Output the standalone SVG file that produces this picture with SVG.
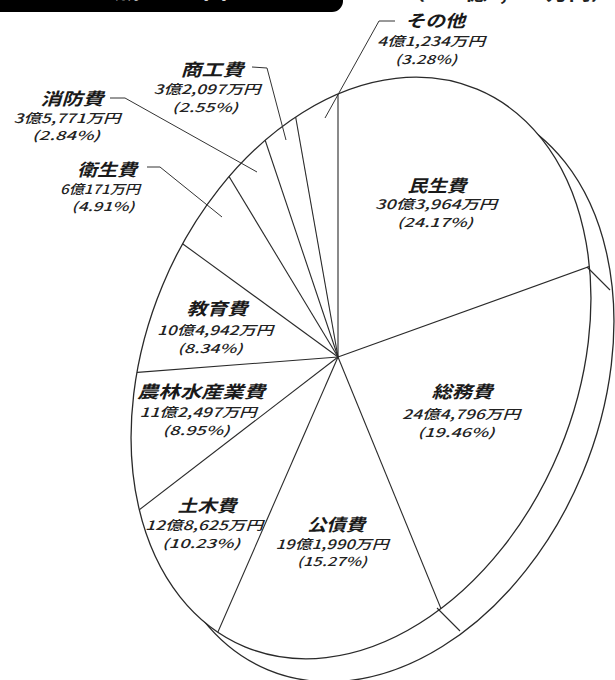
<svg xmlns="http://www.w3.org/2000/svg" width="615" height="680" viewBox="0 0 615 680">
<style>
.t{font-family:"Noto Sans CJK JP","Noto Sans",sans-serif;font-weight:bold;font-style:italic;font-size:17px;fill:#1a1a1a;text-anchor:middle}
.a{font-family:"Noto Sans CJK JP","Noto Sans",sans-serif;font-weight:500;font-style:italic;font-size:13px;fill:#222;text-anchor:middle}
.p{font-family:"Noto Sans CJK JP","Noto Sans",sans-serif;font-weight:500;font-style:italic;font-size:12.5px;fill:#222;text-anchor:middle}
.e{fill:#fff;stroke:#2a2a2a;stroke-width:1.3}
.s{stroke:#2a2a2a;stroke-width:1.1;fill:none}
.l{stroke:#333;stroke-width:1;fill:none}
</style>
<defs>
<clipPath id="face"><ellipse cx="361" cy="368" rx="215" ry="302" transform="rotate(22.6 361 368)"/></clipPath>
</defs>
<rect width="615" height="680" fill="#fff"/>
<g id="header">
<rect x="-20" y="-30" width="363" height="42" rx="11" fill="#000"/>
<text x="127" y="-2" font-family="Noto Sans CJK JP,sans-serif" font-weight="bold" font-size="26" fill="#fff" text-anchor="middle">歳</text>
<text x="215" y="-2" font-family="Noto Sans CJK JP,sans-serif" font-weight="bold" font-size="26" fill="#fff" text-anchor="middle">出</text>
<text x="508" y="0" font-family="Noto Sans CJK JP,sans-serif" font-weight="bold" font-size="18" fill="#222" text-anchor="middle" textLength="210" lengthAdjust="spacingAndGlyphs">（125億6,087万円）</text>
</g>
<g id="pie">
<ellipse class="e" cx="384" cy="391" rx="215" ry="302" transform="rotate(22.6 384 391)"/>
<ellipse class="e" cx="361" cy="368" rx="215" ry="302" transform="rotate(22.6 361 368)"/>
<g clip-path="url(#face)" class="s">
<line x1="338" y1="357" x2="338" y2="40"/>
<line x1="338" y1="357" x2="627" y2="253"/>
<line x1="338" y1="357" x2="462" y2="660"/>
<line x1="338" y1="357" x2="200" y2="673"/>
<line x1="338" y1="357" x2="100" y2="540"/>
<line x1="338" y1="357" x2="90" y2="376"/>
<line x1="338" y1="357" x2="150" y2="220"/>
<line x1="338" y1="357" x2="210" y2="145"/>
<line x1="338" y1="357" x2="255" y2="110"/>
<line x1="338" y1="357" x2="290" y2="85"/>
</g>
<line class="s" x1="587" y1="267" x2="610" y2="290"/>
<line class="s" x1="437" y1="608" x2="460" y2="631"/>
</g>
<g id="connectors" class="l">
<polyline points="395,21 379,21 325,118"/>
<polyline points="252,67 267,68 286,140"/>
<polyline points="110,98 125,98 257,172"/>
<polyline points="147,167 160,167 222,217"/>
</g>
<g id="sonota">
<text class="t" x="435" y="27" textLength="60" lengthAdjust="spacingAndGlyphs">その他</text>
<text class="a" x="431" y="46" textLength="108" lengthAdjust="spacingAndGlyphs">4億1,234万円</text>
<text class="p" x="426" y="64" textLength="62" lengthAdjust="spacingAndGlyphs">(3.28%)</text>
</g>
<g id="shoko">
<text class="t" x="212" y="76" textLength="63" lengthAdjust="spacingAndGlyphs">商工費</text>
<text class="a" x="207" y="94" textLength="107" lengthAdjust="spacingAndGlyphs">3億2,097万円</text>
<text class="p" x="205" y="112" textLength="66" lengthAdjust="spacingAndGlyphs">(2.55%)</text>
</g>
<g id="shobo">
<text class="t" x="72" y="105" textLength="63" lengthAdjust="spacingAndGlyphs">消防費</text>
<text class="a" x="67" y="123" textLength="107" lengthAdjust="spacingAndGlyphs">3億5,771万円</text>
<text class="p" x="66" y="140" textLength="68" lengthAdjust="spacingAndGlyphs">(2.84%)</text>
</g>
<g id="eisei">
<text class="t" x="107" y="176" textLength="60" lengthAdjust="spacingAndGlyphs">衛生費</text>
<text class="a" x="100" y="194" textLength="80" lengthAdjust="spacingAndGlyphs">6億171万円</text>
<text class="p" x="103" y="211" textLength="63" lengthAdjust="spacingAndGlyphs">(4.91%)</text>
</g>
<g id="minsei">
<text class="t" x="437" y="192" textLength="59" lengthAdjust="spacingAndGlyphs">民生費</text>
<text class="a" x="436" y="209" textLength="122" lengthAdjust="spacingAndGlyphs">30億3,964万円</text>
<text class="p" x="435" y="227" textLength="76" lengthAdjust="spacingAndGlyphs">(24.17%)</text>
</g>
<g id="somu">
<text class="t" x="462" y="398" textLength="61" lengthAdjust="spacingAndGlyphs">総務費</text>
<text class="a" x="461" y="419" textLength="118" lengthAdjust="spacingAndGlyphs">24億4,796万円</text>
<text class="p" x="456" y="437" textLength="77" lengthAdjust="spacingAndGlyphs">(19.46%)</text>
</g>
<g id="kosai">
<text class="t" x="336" y="531" textLength="58" lengthAdjust="spacingAndGlyphs">公債費</text>
<text class="a" x="332" y="549" textLength="113" lengthAdjust="spacingAndGlyphs">19億1,990万円</text>
<text class="p" x="332" y="566" textLength="70" lengthAdjust="spacingAndGlyphs">(15.27%)</text>
</g>
<g id="doboku">
<text class="t" x="207" y="512" textLength="59" lengthAdjust="spacingAndGlyphs">土木費</text>
<text class="a" x="204" y="530" textLength="118" lengthAdjust="spacingAndGlyphs">12億8,625万円</text>
<text class="p" x="201" y="548" textLength="78" lengthAdjust="spacingAndGlyphs">(10.23%)</text>
</g>
<g id="norin">
<text class="t" x="201" y="398" textLength="128" lengthAdjust="spacingAndGlyphs">農林水産業費</text>
<text class="a" x="198" y="417" textLength="117" lengthAdjust="spacingAndGlyphs">11億2,497万円</text>
<text class="p" x="196" y="435" textLength="67" lengthAdjust="spacingAndGlyphs">(8.95%)</text>
</g>
<g id="kyoiku">
<text class="t" x="217" y="315" textLength="61" lengthAdjust="spacingAndGlyphs">教育費</text>
<text class="a" x="215" y="335" textLength="116" lengthAdjust="spacingAndGlyphs">10億4,942万円</text>
<text class="p" x="210" y="353" textLength="65" lengthAdjust="spacingAndGlyphs">(8.34%)</text>
</g>
</svg>
